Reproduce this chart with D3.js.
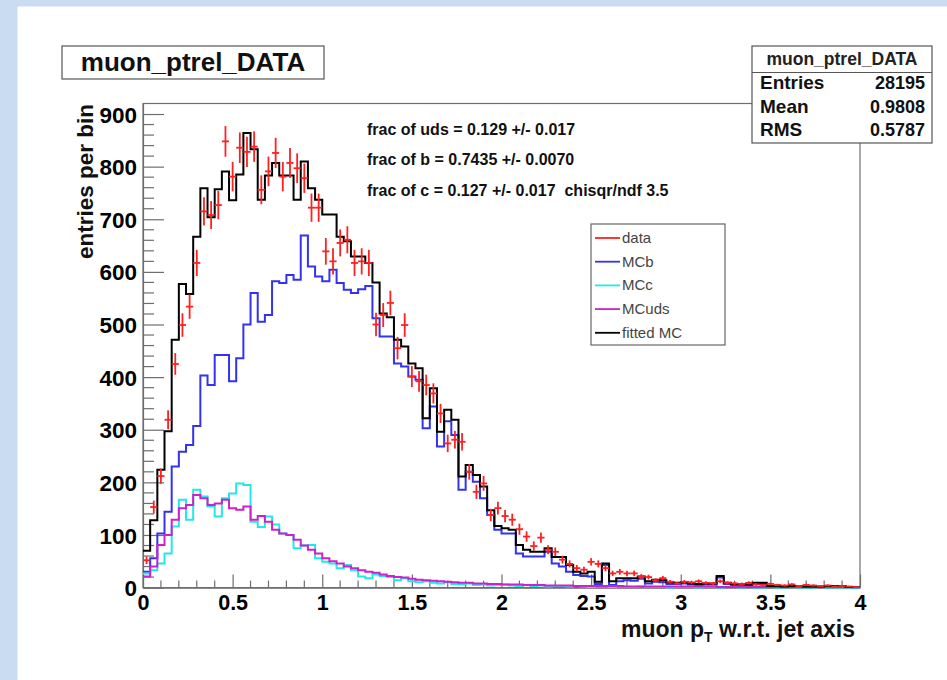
<!DOCTYPE html>
<html><head><meta charset="utf-8">
<script src="https://cdn.jsdelivr.net/npm/d3@7"></script>
<style>
html,body{margin:0;padding:0;background:#cadcf2;}
svg{display:block;}
text{font-family:"Liberation Sans",Arial,Helvetica,sans-serif;}
</style></head>
<body>
<svg id="c" width="947" height="680"></svg>
<script>
// ---- data: 100 bins of width 0.04 on [0,4] ----
const binLo = 0, binHi = 4, nBins = 100;
const dataCounts = [52,153,212,319,425,499,534,617,715,708,727,848,781,836,828,838,756,791,826,781,
 807,797,778,722,722,639,620,655,661,617,620,617,500,518,541,455,499,401,392,385,
 369,331,274,281,277,220,182,198,138,151,136,129,111,97,79,95,72,68,53,45,
 37,34,49,45,37,27,30,27,27,21,20,14,18,11,8,11,10,12,9,8,
 12,9,8,7,9,6,5,7,5,4,6,3,5,4,3,4,2,3,2,1];
const mcB = [30,56,103,144,230,258,271,307,403,385,442,442,392,436,500,560,505,518,582,579,
 594,585,669,610,591,582,604,579,566,560,567,573,512,477,477,426,420,401,395,303,
 344,268,316,290,186,220,201,170,138,110,103,103,65,59,59,59,68,46,40,30,
 24,22,21,7,43,5,12,14,13,17,8,11,10,7,7,8,6,5,6,6,
 19,7,5,5,5,7,7,2,2,1,2,2,1,1,1,2,2,2,1,0];
const mcC = [27,33,46,65,116,167,129,186,173,154,135,170,179,198,195,125,115,135,120,103,
 100,75,80,81,56,49,46,37,43,33,21,18,25,22,20,14,18,12,10,12,
 9,8,10,7,6,8,5,6,4,5,6,4,3,5,3,4,2,3,3,2,
 3,2,1,2,2,1,2,1,1,2,1,1,1,0,1,1,1,0,1,1,
 0,1,1,0,1,0,0,1,0,0,1,0,0,0,1,0,0,0,0,0];
const mcUds = [21,40,81,100,129,151,157,176,170,157,160,167,151,148,154,129,136,125,110,103,
 100,91,80,72,65,56,50,46,40,37,33,30,28,25,22,20,19,17,15,14,
 13,12,11,10,9,9,8,8,7,7,6,6,6,5,5,5,4,4,4,4,
 3,3,3,3,3,3,3,2,2,2,2,2,2,2,2,2,2,2,2,2,
 1,1,1,1,1,1,1,1,1,1,1,1,1,1,1,1,1,1,1,1];
const fitMC = [70,128,224,297,471,577,558,667,759,704,757,791,736,785,864,833,737,783,807,783,
 783,737,810,759,737,709,709,667,658,629,629,617,580,521,514,471,458,426,417,322,
 379,296,338,319,211,233,214,192,147,117,113,110,81,72,68,68,75,58,58,43,
 30,27,30,11,46,12,18,18,18,21,12,15,14,10,9,10,8,7,8,8,
 22,9,7,7,6,9,9,3,3,2,3,3,2,2,2,3,3,3,1,1];

const yTicks = [0,100,200,300,400,500,600,700,800,900];
const xTicks = [0,0.5,1,1.5,2,2.5,3,3.5,4];
const xTickLabels = ["0","0.5","1","1.5","2","2.5","3","3.5","4"];

const histTitle = "muon_ptrel_DATA";
const statsNames = ["Entries","Mean","RMS"];
const statsValues = ["28195","0.9808","0.5787"];
const fitLines = ["frac of uds = 0.129 +/- 0.017",
                  "frac of b = 0.7435 +/- 0.0070",
                  "frac of c = 0.127 +/- 0.017\u00a0\u00a0chisqr/ndf 3.5"];
const legendNames = ["data","MCb","MCc","MCuds","fitted MC"];
const legendColors = ["#ff2020","#3333ee","#22e8e8","#cc22cc","#000000"];

// ---- drawing ----
const svg = d3.select("#c");
svg.append("rect").attr("x",0).attr("y",0).attr("width",947).attr("height",680).attr("fill","#cadcf2");
svg.append("rect").attr("x",17.5).attr("y",6.5).attr("width",930).attr("height",674).attr("fill","#ffffff");

const x = d3.scaleLinear().domain([binLo,binHi]).range([143,860]);
const y = d3.scaleLinear().domain([0,920]).range([587.6,103.5]);
const bw = (binHi-binLo)/nBins;
const edges = d3.range(nBins).map(i => binLo + i*bw);

// frame
const frameCol = "#6e6e6e";
svg.append("rect").attr("x",x(0)).attr("y",y(920)).attr("width",x(4)-x(0)).attr("height",y(0)-y(920))
  .attr("fill","none").attr("stroke",frameCol).attr("stroke-width",1.2);

const tickFont = "Liberation Sans, Arial, sans-serif";
// y axis
const yAxis = d3.axisLeft(y).tickValues(yTicks).tickSizeInner(-21).tickSizeOuter(0).tickPadding(6);
const gy = svg.append("g").attr("transform",`translate(${x(0)},0)`).call(yAxis);
gy.select(".domain").attr("stroke",frameCol).attr("stroke-width",1.2);
gy.selectAll(".tick line").attr("stroke",frameCol).attr("stroke-width",1.2);
gy.selectAll(".tick text").attr("font-size",22.5).attr("font-weight","bold").attr("fill","#000")
  .attr("font-family",tickFont).attr("dy","0.36em");
// y minor ticks
svg.append("g").selectAll("line").data(d3.range(0,920,20).filter(v => v%100!==0)).join("line")
  .attr("x1",x(0)).attr("x2",x(0)+11).attr("y1",d=>y(d)).attr("y2",d=>y(d))
  .attr("stroke",frameCol).attr("stroke-width",1.2);

// x axis
const xAxis = d3.axisBottom(x).tickValues(xTicks).tickFormat((d,i)=>xTickLabels[i]).tickSizeInner(-13).tickSizeOuter(0).tickPadding(12);
const gx = svg.append("g").attr("transform",`translate(0,${y(0)})`).call(xAxis);
gx.select(".domain").attr("stroke",frameCol).attr("stroke-width",1.2);
gx.selectAll(".tick line").attr("stroke",frameCol).attr("stroke-width",1.2);
gx.selectAll(".tick text").attr("font-size",21.5).attr("font-weight","bold").attr("fill","#000")
  .attr("font-family",tickFont).attr("dy","0.5em");
svg.append("g").selectAll("line").data(d3.range(1,40).map(i=>i/10).filter(v => Math.abs(v*2-Math.round(v*2))>1e-6)).join("line")
  .attr("x1",d=>x(d)).attr("x2",d=>x(d)).attr("y1",y(0)).attr("y2",y(0)-7)
  .attr("stroke",frameCol).attr("stroke-width",1.2);

// histograms
function stepPath(vals){
  const pts = vals.map((v,i)=>[edges[i],v]);
  pts.push([binHi, vals[vals.length-1]]);
  return d3.line().x(d=>x(d[0])).y(d=>y(d[1])).curve(d3.curveStepAfter)(pts);
}
const plot = svg.append("g");
[[mcB,legendColors[1]],[mcC,legendColors[2]],[mcUds,legendColors[3]],[fitMC,legendColors[4]]].forEach(([vals,col])=>{
  plot.append("path").attr("d",stepPath(vals)).attr("fill","none").attr("stroke",col)
    .attr("stroke-width",2).attr("stroke-linejoin","miter");
});
// data points with errors (Poisson sqrt(N))
const dg = plot.append("g").attr("stroke",legendColors[0]).attr("stroke-width",1.8);
dataCounts.forEach((v,i)=>{
  const e = Math.sqrt(v);
  const cx = x(edges[i]+bw/2);
  dg.append("line").attr("x1",cx).attr("x2",cx).attr("y1",y(v+e)).attr("y2",y(Math.max(0,v-e)));
  dg.append("line").attr("x1",x(edges[i])).attr("x2",x(edges[i]+bw)).attr("y1",y(v)).attr("y2",y(v));
});

// title box
svg.append("rect").attr("x",62).attr("y",46).attr("width",262).attr("height",33)
  .attr("fill","#fff").attr("stroke","#555").attr("stroke-width",1.2);
svg.append("text").attr("x",193).attr("y",71).attr("text-anchor","middle").attr("font-size",26)
  .attr("font-weight","bold").attr("fill","#111").text(histTitle);

// stats box
svg.append("rect").attr("x",752).attr("y",46).attr("width",180).attr("height",97)
  .attr("fill","#fff").attr("stroke","#555").attr("stroke-width",1.2);
svg.append("line").attr("x1",752).attr("x2",932).attr("y1",72.5).attr("y2",72.5).attr("stroke","#555").attr("stroke-width",1.2);
svg.append("text").attr("x",842).attr("y",65).attr("text-anchor","middle").attr("font-size",17.5)
  .attr("font-weight","bold").attr("fill","#222").text(histTitle);
statsNames.forEach((n,i)=>{
  const yy = 89 + i*23.5;
  svg.append("text").attr("x",760).attr("y",yy).attr("font-size",19).attr("font-weight","bold").attr("fill","#111").text(n);
  svg.append("text").attr("x",925).attr("y",yy).attr("text-anchor","end").attr("font-size",18).attr("font-weight","bold").attr("fill","#111").text(statsValues[i]);
});

// fit text
fitLines.forEach((t,i)=>{
  svg.append("text").attr("x",367).attr("y",134.5 + i*30.5).attr("font-size",16)
    .attr("font-weight","bold").attr("fill","#111").text(t);
});

// legend
svg.append("rect").attr("x",591).attr("y",224).attr("width",134).attr("height",121)
  .attr("fill","#fff").attr("stroke","#666").attr("stroke-width",1.2);
legendNames.forEach((n,i)=>{
  const yy = 238 + i*23.7;
  svg.append("line").attr("x1",595).attr("x2",620).attr("y1",yy).attr("y2",yy)
    .attr("stroke",legendColors[i]).attr("stroke-width",1.8);
  svg.append("text").attr("x",622).attr("y",yy+5).attr("font-size",15).attr("fill","#444").text(n);
});

// axis titles
const xt = svg.append("text").attr("x",855).attr("y",637).attr("text-anchor","end")
  .attr("font-size",23).attr("font-weight","bold").attr("fill","#111");
xt.append("tspan").text("muon p");
xt.append("tspan").attr("font-size",14).attr("dy",5).text("T");
xt.append("tspan").attr("dy",-5).text(" w.r.t. jet axis");

svg.append("text").attr("transform","translate(93,104) rotate(-90)").attr("text-anchor","end")
  .attr("font-size",22.5).attr("font-weight","bold").attr("fill","#111").text("entries per bin");
</script>
</body></html>
